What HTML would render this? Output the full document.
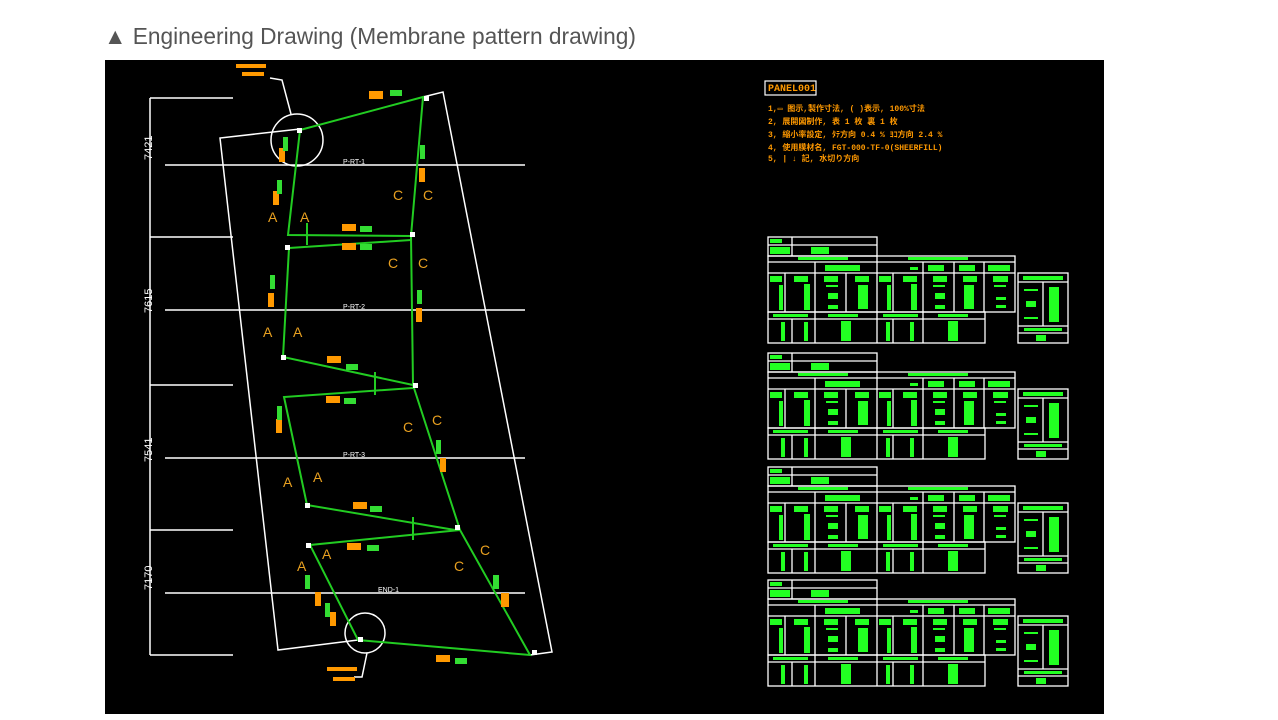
<!DOCTYPE html>
<html><head><meta charset="utf-8"><style>
body{margin:0;width:1278px;height:720px;background:#fff;overflow:hidden;font-family:"Liberation Sans","Noto Sans CJK SC",sans-serif}
.t{position:absolute;left:104px;top:23px;font-size:22.7px;color:#555}
svg{position:absolute;left:0;top:0}
</style></head><body>
<div class="t">▲ Engineering Drawing (Membrane pattern drawing)</div>
<svg width="1278" height="720" viewBox="0 0 1278 720">
<defs>
<g id="tb">
 <g fill="none" stroke="#fff" stroke-width="1.3">
  <rect x="0" y="0" width="109" height="19"/><line x1="0" y1="8" x2="109" y2="8"/><line x1="24" y1="0" x2="24" y2="19"/>
  <rect x="0" y="19" width="247" height="56"/>
  <line x1="0" y1="25" x2="247" y2="25"/><line x1="0" y1="36" x2="247" y2="36"/>
  <line x1="109" y1="19" x2="109" y2="75"/><line x1="47" y1="25" x2="47" y2="36"/>
  <line x1="17" y1="36" x2="17" y2="75"/><line x1="47" y1="36" x2="47" y2="75"/><line x1="78" y1="36" x2="78" y2="75"/>
  <line x1="125" y1="36" x2="125" y2="75"/><line x1="155" y1="25" x2="155" y2="75"/><line x1="186" y1="25" x2="186" y2="75"/><line x1="216" y1="25" x2="216" y2="75"/>
  <rect x="0" y="75" width="217" height="31"/><line x1="0" y1="82" x2="217" y2="82"/>
  <line x1="24" y1="82" x2="24" y2="106"/><line x1="47" y1="75" x2="47" y2="106"/><line x1="109" y1="75" x2="109" y2="106"/><line x1="125" y1="82" x2="125" y2="106"/><line x1="155" y1="75" x2="155" y2="106"/>
  <rect x="250" y="36" width="50" height="70"/><line x1="250" y1="45" x2="300" y2="45"/><line x1="250" y1="89" x2="300" y2="89"/><line x1="250" y1="96" x2="300" y2="96"/><line x1="275" y1="45" x2="275" y2="89"/>
 </g>
 <g fill="#2f2">
  <rect x="2" y="2" width="12" height="4"/><rect x="2" y="10" width="20" height="7"/><rect x="43" y="10" width="18" height="7"/>
  <rect x="30" y="20" width="50" height="3"/><rect x="140" y="20" width="60" height="3"/>
  <rect x="57" y="28" width="35" height="6"/><rect x="142" y="30" width="8" height="3"/><rect x="160" y="28" width="16" height="6"/><rect x="191" y="28" width="16" height="6"/><rect x="220" y="28" width="22" height="6"/>
  <rect x="2" y="39" width="12" height="6"/><rect x="26" y="39" width="14" height="6"/><rect x="56" y="39" width="14" height="6"/><rect x="87" y="39" width="14" height="6"/><rect x="111" y="39" width="12" height="6"/><rect x="135" y="39" width="14" height="6"/><rect x="165" y="39" width="14" height="6"/><rect x="195" y="39" width="14" height="6"/><rect x="225" y="39" width="15" height="6"/>
  <rect x="11" y="48" width="4" height="25"/><rect x="36" y="47" width="6" height="26"/><rect x="58" y="48" width="12" height="2"/><rect x="60" y="56" width="10" height="6"/><rect x="60" y="68" width="10" height="4"/>
  <rect x="90" y="48" width="10" height="24"/><rect x="119" y="48" width="4" height="25"/><rect x="143" y="47" width="6" height="26"/><rect x="165" y="48" width="12" height="2"/><rect x="167" y="56" width="10" height="6"/><rect x="167" y="68" width="10" height="4"/>
  <rect x="196" y="48" width="10" height="24"/><rect x="226" y="48" width="12" height="2"/><rect x="228" y="60" width="10" height="3"/><rect x="228" y="68" width="10" height="3"/>
  <rect x="5" y="77" width="35" height="3"/><rect x="60" y="77" width="30" height="3"/><rect x="115" y="77" width="35" height="3"/><rect x="170" y="77" width="30" height="3"/>
  <rect x="13" y="85" width="4" height="19"/><rect x="36" y="85" width="4" height="19"/><rect x="73" y="84" width="10" height="20"/><rect x="118" y="85" width="4" height="19"/><rect x="142" y="85" width="4" height="19"/><rect x="180" y="84" width="10" height="20"/>
  <rect x="255" y="39" width="40" height="4"/><rect x="256" y="52" width="14" height="2"/><rect x="258" y="64" width="10" height="6"/><rect x="256" y="80" width="14" height="2"/><rect x="281" y="50" width="10" height="35"/><rect x="256" y="91" width="38" height="3"/><rect x="268" y="98" width="10" height="6"/>
 </g>
</g>
</defs>
<rect x="105" y="60" width="999" height="654" fill="#000"/>
<g stroke="#fff" stroke-width="1.5" fill="none">
 <line x1="150" y1="98" x2="150" y2="655"/>
 <line x1="150" y1="98" x2="233" y2="98"/><line x1="150" y1="237" x2="233" y2="237"/><line x1="150" y1="385" x2="233" y2="385"/><line x1="150" y1="530" x2="233" y2="530"/><line x1="150" y1="655" x2="233" y2="655"/>
 <line x1="165" y1="165" x2="525" y2="165"/><line x1="165" y1="310" x2="525" y2="310"/><line x1="165" y1="458" x2="525" y2="458"/><line x1="165" y1="593" x2="525" y2="593"/>
 <polyline points="300,129 220,138 278,650 358,640"/>
 <polyline points="423,97 443,92 552,652 530,655"/>
 <circle cx="297" cy="140" r="26"/><circle cx="365" cy="633" r="20"/>
 <polyline points="291,114 282,80 270,78"/><polyline points="367,653 362,677 354,677"/>
</g>
<g fill="#fff" font-size="11" font-family="Liberation Sans,sans-serif">
 <text transform="translate(152,160) rotate(-90)">7421</text>
 <text transform="translate(152,313) rotate(-90)">7615</text>
 <text transform="translate(152,462) rotate(-90)">7541</text>
 <text transform="translate(152,590) rotate(-90)">7170</text>
 <text x="343" y="164" font-size="7">P-RT-1</text><text x="343" y="309" font-size="7">P-RT-2</text><text x="343" y="457" font-size="7">P-RT-3</text><text x="378" y="592" font-size="7">END-1</text>
</g>
<g stroke="#2c2" stroke-width="2" fill="none">
 <polyline points="300,130 423,97 411,236 413,385 460,530 530,655 358,640 310,545 460,530"/>
 <polyline points="300,130 288,235 411,236"/>
 <polyline points="289,248 411,240"/>
 <polyline points="289,248 283,357 413,385"/>
 <polyline points="413,388 284,397 307,505 455,530"/>
 <line x1="307" y1="223" x2="307" y2="245"/><line x1="375" y1="372" x2="375" y2="395"/><line x1="413" y1="517" x2="413" y2="540"/>
</g>
<g fill="#fff">
 <rect x="424" y="96" width="5" height="5"/><rect x="410" y="232" width="5" height="5"/><rect x="413" y="383" width="5" height="5"/><rect x="455" y="525" width="5" height="5"/><rect x="532" y="650" width="5" height="5"/><rect x="281" y="355" width="5" height="5"/><rect x="285" y="245" width="5" height="5"/><rect x="297" y="128" width="5" height="5"/><rect x="305" y="503" width="5" height="5"/><rect x="306" y="543" width="5" height="5"/><rect x="358" y="637" width="5" height="5"/>
</g>
<g fill="#f90">
 <rect x="369" y="91" width="14" height="8"/><rect x="279" y="148" width="6" height="14"/><rect x="273" y="191" width="6" height="14"/><rect x="419" y="168" width="6" height="14"/><rect x="342" y="224" width="14" height="7"/><rect x="342" y="243" width="14" height="7"/><rect x="268" y="293" width="6" height="14"/><rect x="416" y="308" width="6" height="14"/><rect x="327" y="356" width="14" height="7"/><rect x="326" y="396" width="14" height="7"/><rect x="276" y="419" width="6" height="14"/><rect x="440" y="458" width="6" height="14"/><rect x="353" y="502" width="14" height="7"/><rect x="347" y="543" width="14" height="7"/><rect x="315" y="592" width="6" height="14"/><rect x="330" y="612" width="6" height="14"/><rect x="501" y="593" width="8" height="14"/><rect x="436" y="655" width="14" height="7"/><rect x="236" y="64" width="30" height="4"/><rect x="242" y="72" width="22" height="4"/><rect x="327" y="667" width="30" height="4"/><rect x="333" y="677" width="22" height="4"/>
</g>
<g fill="#e8a020" font-size="14" font-family="Liberation Sans,sans-serif">
 <text x="268" y="222">A</text><text x="300" y="222">A</text><text x="393" y="200">C</text><text x="423" y="200">C</text><text x="388" y="268">C</text><text x="418" y="268">C</text>
 <text x="263" y="337">A</text><text x="293" y="337">A</text><text x="283" y="487">A</text><text x="313" y="482">A</text><text x="403" y="432">C</text><text x="432" y="425">C</text>
 <text x="454" y="571">C</text><text x="480" y="555">C</text><text x="297" y="571">A</text><text x="322" y="559">A</text>
</g>
<g fill="#3d3">
 <rect x="390" y="90" width="12" height="6"/><rect x="360" y="226" width="12" height="6"/><rect x="360" y="244" width="12" height="6"/><rect x="346" y="364" width="12" height="6"/><rect x="344" y="398" width="12" height="6"/><rect x="370" y="506" width="12" height="6"/><rect x="367" y="545" width="12" height="6"/><rect x="455" y="658" width="12" height="6"/>
 <rect x="283" y="137" width="5" height="14"/><rect x="277" y="180" width="5" height="14"/><rect x="420" y="145" width="5" height="14"/><rect x="270" y="275" width="5" height="14"/><rect x="417" y="290" width="5" height="14"/><rect x="277" y="406" width="5" height="14"/><rect x="436" y="440" width="5" height="14"/><rect x="305" y="575" width="5" height="14"/><rect x="325" y="603" width="5" height="14"/><rect x="493" y="575" width="6" height="14"/>
</g>
<g fill="#f90" font-family="Liberation Mono,'Noto Sans CJK SC',monospace" font-size="8" font-weight="bold">
 <rect x="765" y="81" width="51" height="14" fill="none" stroke="#fff" stroke-width="1.2"/>
 <text x="768" y="91" font-size="10">PANEL001</text>
 <text x="768" y="111">1,▭ 图示,製作寸法, ( )表示, 100%寸法</text>
 <text x="768" y="124">2, 展開図制作, 表 1 枚  裏 1 枚</text>
 <text x="768" y="137">3, 縮小率設定, ﾀﾃ方向 0.4 %   ﾖｺ方向 2.4 %</text>
 <text x="768" y="150">4, 使用膜材名, FGT-000-TF-0(SHEERFILL)</text>
 <text x="768" y="161">5, | ↓ 記, 水切り方向</text>
</g>
<use href="#tb" x="768" y="237"/>
<use href="#tb" x="768" y="353"/>
<use href="#tb" x="768" y="467"/>
<use href="#tb" x="768" y="580"/>
</svg>
</body></html>
